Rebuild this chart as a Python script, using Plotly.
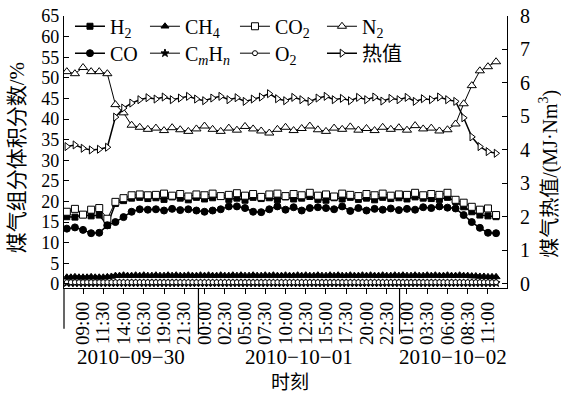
import pandas as pd
import plotly.graph_objects as go

# ---------------- data ----------------
# main series: hourly, 2010-09-30 07:00 .. 2010-10-02 12:00 (54 points)
times_h = pd.date_range("2010-09-30 07:00", periods=54, freq="60min")
# minor series: half-hourly (107 points)
times_hh = pd.date_range("2010-09-30 07:00", periods=107, freq="30min")

H2 = [16.3, 16.2, 16.8, 16.5, 16.7, 14.2,
      19.5, 20.2, 20.8, 21.0, 20.7,
      20.9, 20.5, 21.1, 20.8, 20.4, 21.0, 20.6, 20.9, 21.2, 20.5, 20.8, 20.3, 21.0,
      20.7, 20.9, 20.4, 21.1, 20.6, 20.8, 21.2, 20.5, 20.3, 20.9, 20.6, 21.0, 20.5,
      20.8, 20.4, 21.0, 20.7, 20.9, 20.6, 21.1, 20.8, 20.7, 20.5, 21.0,
      20.0, 18.7, 17.5, 16.7, 16.5, 16.3]
CO = [13.4, 13.7, 13.1, 12.3, 12.4, 14.2,
      15.0, 16.2, 17.5, 18.1, 18.0,
      18.1, 17.8, 18.2, 17.9, 18.1, 17.8, 17.5, 17.8, 18.1, 18.8, 18.8, 18.4, 17.5,
      17.4, 18.1, 18.8, 18.0, 18.6, 17.8, 18.4, 18.6, 18.4, 18.1, 18.8, 17.7, 18.4,
      17.8, 18.2, 18.0, 18.3, 17.9, 18.2, 18.0, 18.6, 18.4, 18.8, 18.5,
      18.3, 16.7, 15.0, 13.6, 12.4, 12.3]
CO2 = [17.5, 18.2, 16.8, 18.0, 18.4, 15.8,
       19.9, 20.8, 21.5, 21.7, 21.5,
       21.6, 21.9, 21.4, 21.8, 21.2, 21.7, 21.5, 21.9, 21.3, 21.6, 22.0, 21.4, 21.8,
       21.1, 21.7, 21.9, 21.3, 21.8, 21.5, 22.1, 21.4, 21.7, 21.2, 21.9, 21.6, 21.3,
       21.8, 21.5, 21.9, 21.4, 21.7, 21.6, 22.1, 21.5, 21.8, 21.6, 22.1,
       20.4, 19.7, 18.7, 18.0, 18.3, 16.7]
N2 = [51.5, 51.0, 52.5, 51.5, 51.5, 51.0,
      43.5, 41.5, 38.5, 38.0, 37.5,
      37.8, 37.2, 37.9, 37.4, 37.0, 37.6, 38.3, 37.5, 37.0, 37.8, 37.3, 38.2, 37.6,
      37.1, 36.6, 37.5, 38.0, 37.2, 37.7, 38.3, 37.4, 37.0, 37.8, 37.5, 38.1, 37.3,
      37.7, 37.2, 38.0, 37.5, 37.9, 37.3, 38.4, 37.6, 37.8, 37.1,
      37.4, 38.8, 43.7, 48.1, 51.7, 52.7, 53.9]
HEAT = [4.10, 4.15, 4.05, 4.00, 4.02, 4.08,
        4.98, 5.25, 5.40, 5.50, 5.56,
        5.52, 5.58, 5.50, 5.55, 5.60, 5.52, 5.47, 5.55, 5.60, 5.50, 5.56, 5.45, 5.52,
        5.58, 5.68, 5.53, 5.47, 5.57, 5.50, 5.45, 5.55, 5.60, 5.50, 5.54, 5.47, 5.57,
        5.50, 5.58, 5.46, 5.54, 5.50, 5.57, 5.45, 5.53, 5.50, 5.58, 5.50,
        5.45, 4.96, 4.39, 4.10, 3.95, 3.90]

CH4 = [1.6, 1.6, 1.7, 1.6, 1.6, 1.6, 1.7, 1.6, 1.6, 1.6, 1.7, 1.8,
       2.0, 2.0, 2.1, 2.0, 2.0, 2.1, 2.0, 2.1, 2.0, 2.0, 2.1, 2.0, 2.0, 2.1, 2.0,
       2.1, 2.0, 2.0, 2.1, 2.0, 2.0, 2.1, 2.0, 2.1, 2.0, 2.0, 2.1, 2.0, 2.0, 2.1,
       2.0, 2.1, 2.0, 2.0, 2.1, 2.0, 2.0, 2.1, 2.0, 2.1, 2.0, 2.0, 2.1, 2.0, 2.0,
       2.1, 2.0, 2.1, 2.0, 2.0, 2.1, 2.0, 2.0, 2.1, 2.0, 2.1, 2.0, 2.0, 2.1, 2.0,
       2.0, 2.1, 2.0, 2.1, 2.0, 2.0, 2.1, 2.0, 2.0, 2.1, 2.0, 2.1, 2.0, 2.0, 2.1,
       2.0, 2.0, 2.1, 2.0, 2.1, 2.0, 2.0, 2.1, 2.0, 2.0, 2.1, 2.0,
       2.0, 1.9, 1.9, 1.8, 1.8, 1.7, 1.7, 1.7]
CMHN = [0.2, 0.2, 0.2, 0.2, 0.2, 0.2, 0.2, 0.2, 0.2, 0.2, 0.2, 0.2,
        0.2, 0.2, 0.2, 0.2, 0.2, 0.2, 0.2, 0.2, 0.2, 0.2, 0.2, 0.2, 0.2, 0.2, 0.2,
        0.2, 0.2, 0.2, 0.2, 0.2, 0.2, 0.2, 0.2, 0.2, 0.2, 0.2, 0.2, 0.2, 0.2, 0.2,
        0.2, 0.2, 0.2, 0.2, 0.2, 0.2, 0.2, 0.2, 0.2, 0.2, 0.2, 0.2, 0.2, 0.2, 0.2,
        0.2, 0.2, 0.2, 0.2, 0.2, 0.2, 0.2, 0.2, 0.2, 0.2, 0.2, 0.2, 0.2, 0.2, 0.2,
        0.2, 0.2, 0.2, 0.2, 0.2, 0.2, 0.2, 0.2, 0.2, 0.2, 0.2, 0.2, 0.2, 0.2, 0.2,
        0.2, 0.2, 0.2, 0.2, 0.2, 0.2, 0.2, 0.2, 0.2, 0.2, 0.2, 0.2,
        0.2, 0.2, 0.2, 0.2, 0.2, 0.2, 0.2, 0.2]
O2 = [0.4, 0.4, 0.4, 0.4, 0.4, 0.4, 0.4, 0.4, 0.4, 0.4, 0.4, 0.4,
      0.4, 0.4, 0.4, 0.4, 0.4, 0.4, 0.4, 0.4, 0.4, 0.4, 0.4, 0.4, 0.4, 0.4, 0.4,
      0.4, 0.4, 0.4, 0.4, 0.4, 0.4, 0.4, 0.4, 0.4, 0.4, 0.4, 0.4, 0.4, 0.4, 0.4,
      0.4, 0.4, 0.4, 0.4, 0.4, 0.4, 0.4, 0.4, 0.4, 0.4, 0.4, 0.4, 0.4, 0.4, 0.4,
      0.4, 0.4, 0.4, 0.4, 0.4, 0.4, 0.4, 0.4, 0.4, 0.4, 0.4, 0.4, 0.4, 0.4, 0.4,
      0.4, 0.4, 0.4, 0.4, 0.4, 0.4, 0.4, 0.4, 0.4, 0.4, 0.4, 0.4, 0.4, 0.4, 0.4,
      0.4, 0.4, 0.4, 0.4, 0.4, 0.4, 0.4, 0.4, 0.4, 0.4, 0.4, 0.4,
      0.4, 0.4, 0.4, 0.4, 0.4, 0.4, 0.4, 0.4]

TICK_TEXT = ["09:00", "11:30", "14:00", "16:30", "19:00", "21:30",
             "00:00", "02:30", "05:00", "07:30", "10:00", "12:30", "15:00", "17:30",
             "20:00", "22:30", "01:00", "03:30", "06:00", "08:30", "11:00"]
TICK_VALS = pd.date_range("2010-09-30 09:00", periods=len(TICK_TEXT), freq="150min")
DATES = ["2010−09−30", "2010−10−01", "2010−10−02"]
DAY_BREAKS = ["2010-09-30 23:15", "2010-10-02 00:05"]
X_RANGE = [pd.Timestamp("2010-09-30 06:39"), pd.Timestamp("2010-10-02 13:21")]

LEFT_TITLE = "煤气组分体积分数/%"
RIGHT_TITLE = "煤气热值/(MJ·Nm<sup>3</sup>)"
X_TITLE = "时刻"

SERIF = "Liberation Serif, Noto Sans CJK SC, serif"
BLACK = "black"

fig = go.Figure()

def add(x, y, name, symbol, size, legend, lw, yaxis="y", width=1.5, fill=BLACK):
    fig.add_trace(go.Scatter(
        x=x, y=y, name=name, mode="lines+markers", yaxis=yaxis,
        line=dict(color=BLACK, width=width),
        marker=dict(symbol=symbol, size=size, color=fill,
                    line=dict(color=BLACK, width=1)),
        legend=legend, legendwidth=lw))

# row 1 of legend
add(times_h, H2, "H<sub>2</sub>", "square", 6, "legend", 30)
add(times_hh, CH4, "CH<sub>4</sub>", "triangle-up", 7, "legend", 45, width=1)
add(times_h, CO2, "CO<sub>2</sub>", "square", 7, "legend", 42, width=1, fill="white")
add(times_h, N2, "N<sub>2</sub>", "triangle-up", 8, "legend", 40, width=1, fill="white")
# row 2
add(times_h, CO, "CO", "circle", 7, "legend2", 30)
add(times_hh, CMHN, "C<sub><i>m</i></sub>H<sub><i>n</i></sub>", "star", 6, "legend2", 45, width=1)
add(times_hh, O2, "O<sub>2</sub>", "circle", 5, "legend2", 42, width=1, fill="white")
add(times_h, HEAT, "热值", "triangle-right", 7, "legend2", 40, yaxis="y2", fill="white")

axis_common = dict(showline=True, linecolor=BLACK, linewidth=1.2, showgrid=False,
                   zeroline=False, tickcolor=BLACK, ticklen=5, tickwidth=1.2)

shapes = [dict(type="line", xref="paper", yref="paper", x0=0, x1=0, y0=0, y1=-0.15,
               line=dict(color=BLACK, width=1.2))]
for d in DAY_BREAKS:
    shapes.append(dict(type="line", xref="x", yref="paper", x0=d, x1=d, y0=0, y1=-0.17,
                       line=dict(color=BLACK, width=1.2)))

bounds = [X_RANGE[0]] + [pd.Timestamp(d) for d in DAY_BREAKS] + [X_RANGE[1]]
annotations = []
for i, dt in enumerate(DATES):
    mid = bounds[i] + (bounds[i + 1] - bounds[i]) / 2
    annotations.append(dict(x=mid, y=-0.255, xref="x", yref="paper", text=dt,
                            showarrow=False, font=dict(size=21, family=SERIF, color=BLACK),
                            xanchor="center", yanchor="middle"))
annotations.append(dict(x=0.51, y=-0.348, xref="paper", yref="paper", text=X_TITLE,
                        showarrow=False, font=dict(size=19, family=SERIF, color=BLACK),
                        xanchor="center", yanchor="middle"))
annotations.append(dict(x=-0.104, y=0.48, xref="paper", yref="paper", text=LEFT_TITLE,
                        textangle=-90, showarrow=False,
                        font=dict(size=21, family=SERIF, color=BLACK),
                        xanchor="center", yanchor="middle"))
annotations.append(dict(x=1.095, y=0.42, xref="paper", yref="paper", text=RIGHT_TITLE,
                        textangle=-90, showarrow=False,
                        font=dict(size=20, family=SERIF, color=BLACK),
                        xanchor="center", yanchor="middle"))

legend_common = dict(orientation="h", xanchor="left", yanchor="top",
                     bgcolor="rgba(0,0,0,0)", borderwidth=0, itemwidth=30,
                     font=dict(size=20, family=SERIF, color=BLACK))

fig.update_layout(
    width=561, height=393,
    margin=dict(l=64, r=54, t=16, b=105, autoexpand=False),
    paper_bgcolor="white", plot_bgcolor="white",
    font=dict(family=SERIF, color=BLACK),
    xaxis=dict(range=X_RANGE, tickmode="array", tickvals=TICK_VALS, ticktext=TICK_TEXT,
               tickangle=-90, ticks="outside", tickfont=dict(size=19, family=SERIF),
               **axis_common),
    yaxis=dict(range=[-1, 65], tick0=0, dtick=5, ticks="inside",
               tickfont=dict(size=18, family=SERIF), **axis_common),
    yaxis2=dict(range=[-1 / 8.125, 8], tick0=0, dtick=1, ticks="inside", overlaying="y",
                side="right", ticklabelstandoff=8, tickfont=dict(size=20, family=SERIF),
                **axis_common),
    legend=dict(x=0.0135, y=1.034, **legend_common),
    legend2=dict(x=0.0135, y=0.935, **legend_common),
    shapes=shapes, annotations=annotations,
)

fig.write_html("out.html")
